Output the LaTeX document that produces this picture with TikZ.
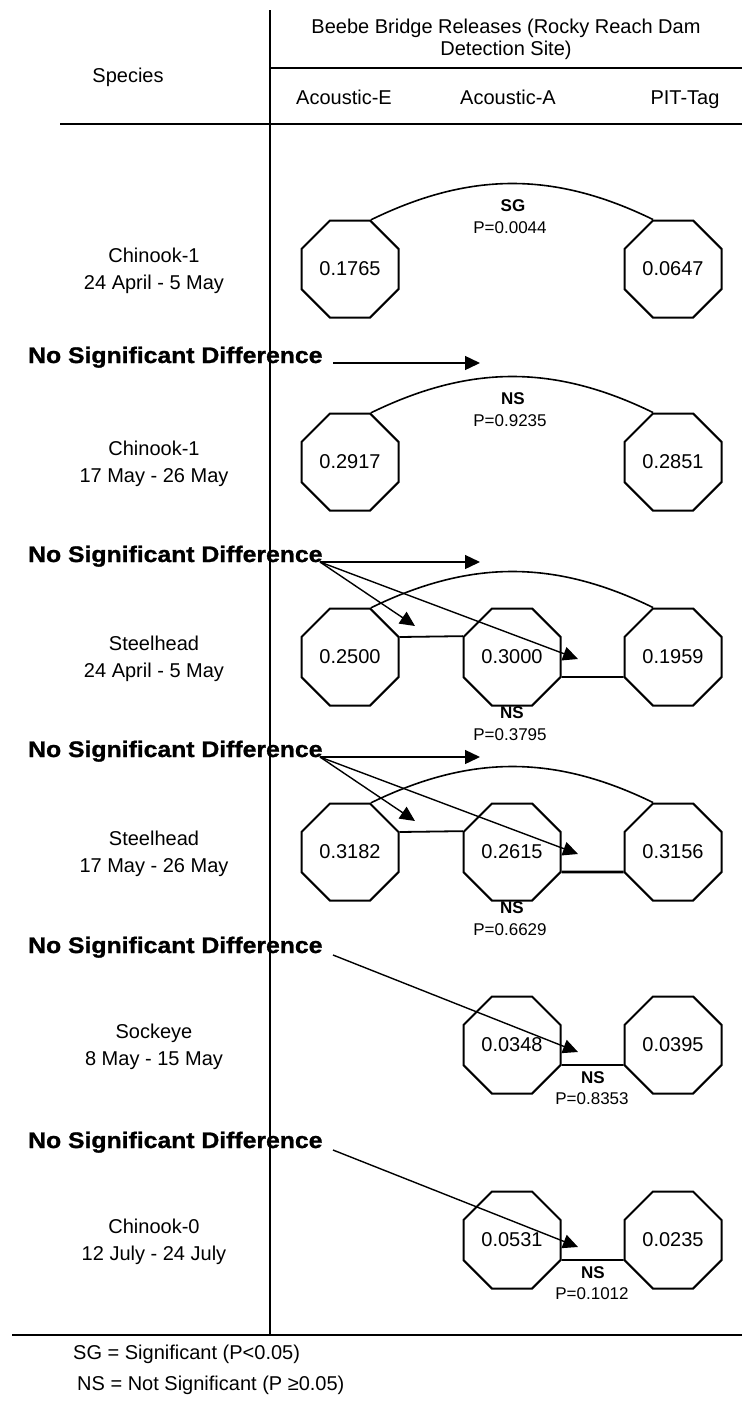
\documentclass[tikz,border=0pt]{standalone}
\usepackage{fontspec}
\setmainfont{Liberation Sans}
\newfontfamily\nsdfont[FakeStretch=1.1,FakeBold=1.2]{Liberation Sans}
\usetikzlibrary{arrows.meta,calc,shapes.geometric}
\begin{document}
\begin{tikzpicture}[x=1pt,y=1pt,
  oct/.style={draw,line width=2pt,regular polygon,regular polygon sides=8,minimum size=105pt,inner sep=0pt,font=\fontsize{20}{24}\selectfont},
  lbl/.style={align=center,font=\fontsize{20}{27}\selectfont,inner sep=0pt},
  hdr/.style={font=\fontsize{20}{22}\selectfont,inner sep=0pt},
  small/.style={font=\fontsize{17}{20}\selectfont,inner sep=0pt},
  smallb/.style={font=\bfseries\fontsize{17}{20}\selectfont,inner sep=0pt},
  nsd/.style={font=\nsdfont\bfseries\fontsize{22.5}{24}\selectfont,anchor=base west,inner sep=0pt},
  rule/.style={line width=2pt},
  conn/.style={line width=1.8pt},
  arcline/.style={line width=1.6pt},
  arr/.style={line width=1.4pt,-{Triangle[length=15pt,width=14pt]}},
]
\useasboundingbox (0,0) rectangle (742,-1403);

% table rules
\coordinate (vtop) at (270,-10);
\coordinate (vbot) at (270,-1335);
\coordinate (h1a) at (270,-68);  \coordinate (h1b) at (742,-68);
\coordinate (h2a) at (60,-124);  \coordinate (h2b) at (742,-124);
\coordinate (h3a) at (12,-1335); \coordinate (h3b) at (742,-1335);
\draw[rule] (vtop) -- (vbot);
\draw[rule] (h1a) -- (h1b);
\draw[rule] (h2a) -- (h2b);
\draw[rule] (h3a) -- (h3b);

% header
\node[hdr,align=center] (title) at (506,-39) {Beebe Bridge Releases (Rocky Reach Dam\\Detection Site)};
\node[hdr,anchor=base] (species) at (128,-82) {Species};
\node[hdr,anchor=base] (colE) at (344,-104) {Acoustic-E};
\node[hdr,anchor=base] (colA) at (508,-104) {Acoustic-A};
\node[hdr,anchor=base] (colP) at (685,-104) {PIT-Tag};

% row labels
\node[lbl] (lA) at (154,-271) {Chinook-1\\24 April - 5 May};
\node[lbl] (lB) at (154,-464) {Chinook-1\\17 May - 26 May};
\node[lbl] (lC) at (154,-659) {Steelhead\\24 April - 5 May};
\node[lbl] (lD) at (154,-854) {Steelhead\\17 May - 26 May};
\node[lbl] (lE) at (154,-1047) {Sockeye\\8 May - 15 May};
\node[lbl] (lF) at (154,-1242) {Chinook-0\\12 July - 24 July};

% row A
\node[oct] (e1) at (350,-269) {0.1765};
\node[oct] (p1) at (673,-269) {0.0647};
\draw[arcline] (e1.67.5) to[out=26,in=154] (p1.112.5);
\node[smallb] (sg1) at (513,-206) {SG};
\node[small] (pv1) at (510,-228) {P=0.0044};

% row B
\node[oct] (e2) at (350,-462) {0.2917};
\node[oct] (p2) at (673,-462) {0.2851};
\draw[arcline] (e2.67.5) to[out=26,in=154] (p2.112.5);
\node[smallb] (ns2) at (513,-399) {NS};
\node[small] (pv2) at (510,-421) {P=0.9235};

% row C
\node[oct] (e3) at (350,-657) {0.2500};
\node[oct] (a3) at (512,-657) {0.3000};
\node[oct] (p3) at (673,-657) {0.1959};
\draw[arcline] (e3.67.5) to[out=26,in=154] (p3.112.5);
\draw[conn] (e3.22.5) -- (a3.157.5);
\draw[conn] (a3.-22.5) -- (p3.202.5);
\node[smallb] (ns3) at (512,-713) {NS};
\node[small] (pv3) at (510,-735) {P=0.3795};

% row D
\node[oct] (e4) at (350,-852) {0.3182};
\node[oct] (a4) at (512,-852) {0.2615};
\node[oct] (p4) at (673,-852) {0.3156};
\draw[arcline] (e4.67.5) to[out=26,in=154] (p4.112.5);
\draw[conn] (e4.22.5) -- (a4.157.5);
\draw[conn,line width=2.6pt] (a4.-22.5) -- (p4.202.5);
\node[smallb] (ns4) at (512,-908) {NS};
\node[small] (pv4) at (510,-930) {P=0.6629};

% row E
\node[oct] (a5) at (512,-1045) {0.0348};
\node[oct] (p5) at (673,-1045) {0.0395};
\draw[conn] (a5.-22.5) -- (p5.202.5);
\node[smallb] (ns5) at (593,-1078) {NS};
\node[small] (pv5) at (592,-1099) {P=0.8353};

% row F
\node[oct] (a6) at (512,-1240) {0.0531};
\node[oct] (p6) at (673,-1240) {0.0235};
\draw[conn] (a6.-22.5) -- (p6.202.5);
\node[smallb] (ns6) at (593,-1273) {NS};
\node[small] (pv6) at (592,-1294) {P=0.1012};

% No Significant Difference labels and arrows
\node[nsd] (n1) at (28,-363) {No Significant Difference};
\coordinate (s1) at (333,-363); \coordinate (t1) at (480,-363);
\draw[arr] (s1) -- (t1);

\node[nsd] (n2) at (28,-562) {No Significant Difference};
\coordinate (s2) at (320,-562);
\coordinate (t2a) at (480,-562); \coordinate (t2b) at (415,-626); \coordinate (t2c) at (578,-659);
\draw[arr] (s2) -- (t2a);
\draw[arr] (s2) -- (t2b);
\draw[arr] (s2) -- (t2c);

\node[nsd] (n3) at (28,-757) {No Significant Difference};
\coordinate (s3) at (320,-757);
\coordinate (t3a) at (480,-757); \coordinate (t3b) at (415,-821); \coordinate (t3c) at (578,-854);
\draw[arr] (s3) -- (t3a);
\draw[arr] (s3) -- (t3b);
\draw[arr] (s3) -- (t3c);

\node[nsd] (n4) at (28,-953) {No Significant Difference};
\coordinate (s4) at (333,-955); \coordinate (t4) at (578,-1052);
\draw[arr] (s4) -- (t4);

\node[nsd] (n5) at (28,-1148) {No Significant Difference};
\coordinate (s5) at (333,-1150); \coordinate (t5) at (578,-1247);
\draw[arr] (s5) -- (t5);

% legend
\node[hdr,anchor=base west] (leg1) at (73,-1359) {SG = Significant (P<0.05)};
\node[hdr,anchor=base west] (leg2) at (77,-1390) {NS = Not Significant (P ≥0.05)};
\end{tikzpicture}
\end{document}
